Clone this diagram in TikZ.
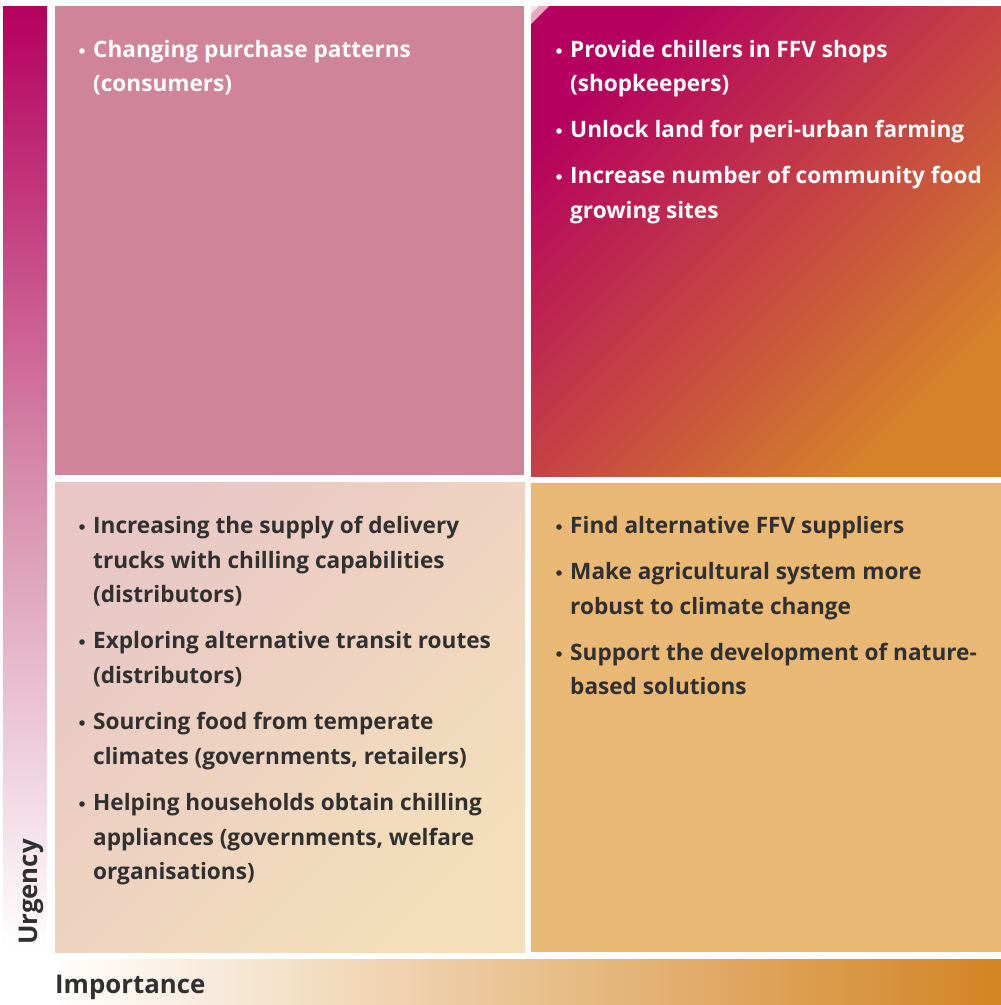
\documentclass[tikz,border=0pt]{standalone}
\usepackage{fontspec}
\setmainfont{Open Sans}
\definecolor{mag}{HTML}{B5005F}
\definecolor{orng}{HTML}{D5842A}
\definecolor{tlpink}{HTML}{CF8499}
\definecolor{brorange}{HTML}{E8B874}
\definecolor{blA}{HTML}{E8C7C6}
\definecolor{blB}{HTML}{F4DFBA}
\definecolor{darktext}{HTML}{303030}
\definecolor{hbarR}{HTML}{D38423}
\definecolor{vbarM}{RGB}{214,140,170}
\definecolor{cornerA}{RGB}{232,168,192}
\definecolor{cornerB}{RGB}{246,222,230}
\begin{document}
\begin{tikzpicture}[x=1pt,y=-1pt,
  linew/.style={anchor=base west, inner sep=0pt, text=white, font=\fontsize{22.6}{26}\selectfont\bfseries},
  lined/.style={linew, text=darktext},
  bulw/.style={circle, fill=white, inner sep=0pt, minimum size=5.6pt},
  buld/.style={bulw, fill=darktext},
  axislabel/.style={anchor=base west, inner sep=0pt, text=darktext, font=\fontsize{25.8}{30}\selectfont\bfseries}
]
\useasboundingbox (0,0) rectangle (1001,1005);
% axis bars
\shade[top color=mag, bottom color=white, middle color=vbarM] (3,6) rectangle (47,949);
\shade[left color=white, right color=hbarR] (55,959) rectangle (1001,1005);
% quadrants
\fill[tlpink] (55,6) rectangle (524,475);
\shade[shading=axis, top color=mag, bottom color=orng, shading angle=45] (531,6) rectangle (1001,476);
\fill[cornerA] (531,6) -- (549,6) -- (531,24) -- cycle;
\fill[cornerB] (531,6) -- (539,6) -- (531,14) -- cycle;
\shade[shading=axis, top color=blA, bottom color=blB, shading angle=45] (55,482) rectangle (525,952);
\fill[brorange] (531,483) rectangle (1001,952);
% top-left
\node[bulw] (b1) at (82,51) {};
\node[linew] (t1a) at (93,57) {Changing purchase patterns};
\node[linew] (t1b) at (93,91) {(consumers)};
% top-right
\node[bulw] (b2) at (559,51) {};
\node[linew] (t2a) at (570,57) {Provide chillers in FFV shops};
\node[linew] (t2b) at (570,91) {(shopkeepers)};
\node[bulw] (b3) at (559,131) {};
\node[linew] (t3a) at (570,137) {Unlock land for peri-urban farming};
\node[bulw] (b4) at (559,177) {};
\node[linew] (t4a) at (570,183) {Increase number of community food};
\node[linew] (t4b) at (570,218) {growing sites};
% bottom-left
\node[buld] (b5) at (82,527) {};
\node[lined] (t5a) at (93,533) {Increasing the supply of delivery};
\node[lined] (t5b) at (93,568) {trucks with chilling capabilities};
\node[lined] (t5c) at (93,602) {(distributors)};
\node[buld] (b6) at (82,642) {};
\node[lined] (t6a) at (93,648) {Exploring alternative transit routes};
\node[lined] (t6b) at (93,683) {(distributors)};
\node[buld] (b7) at (82,723) {};
\node[lined] (t7a) at (93,729) {Sourcing food from temperate};
\node[lined] (t7b) at (93,764) {climates (governments, retailers)};
\node[buld] (b8) at (82,804) {};
\node[lined] (t8a) at (93,810) {Helping households obtain chilling};
\node[lined] (t8b) at (93,845) {appliances (governments, welfare};
\node[lined] (t8c) at (93,879) {organisations)};
% bottom-right
\node[buld] (b9) at (559,527) {};
\node[lined] (t9a) at (570,533) {Find alternative FFV suppliers};
\node[buld] (b10) at (559,573) {};
\node[lined] (t10a) at (570,579) {Make agricultural system more};
\node[lined] (t10b) at (570,614) {robust to climate change};
\node[buld] (b11) at (559,654) {};
\node[lined] (t11a) at (570,660) {Support the development of nature-};
\node[lined] (t11b) at (570,694) {based solutions};
% axis labels
\node[axislabel, rotate=90] (urg) at (37,945) {Urgency};
\node[axislabel] (imp) at (55,993) {Importance};
\end{tikzpicture}
\end{document}
